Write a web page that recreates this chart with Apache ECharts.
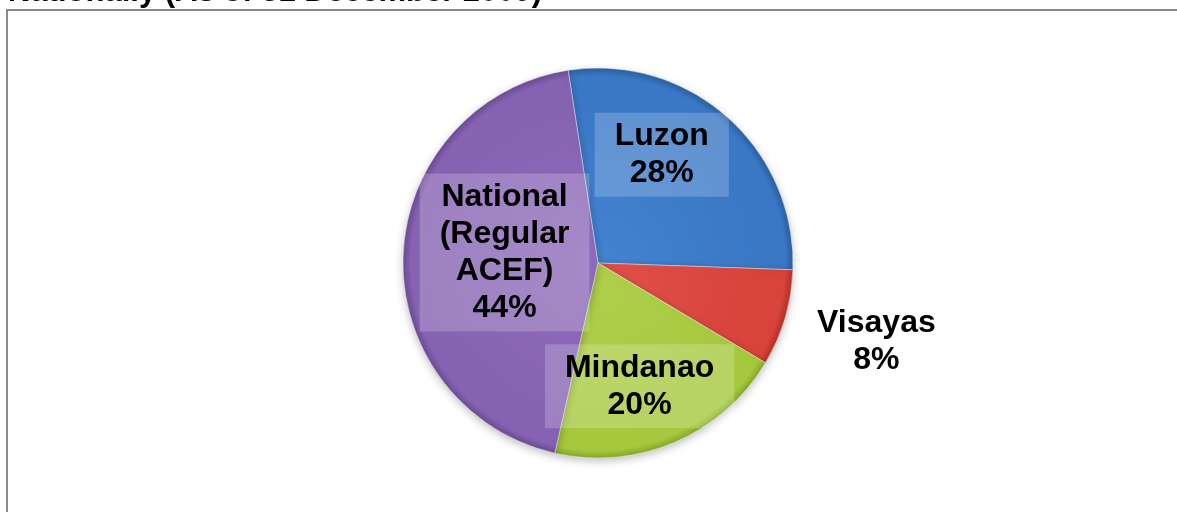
<!DOCTYPE html>
<html>
<head>
<meta charset="utf-8">
<script src="https://cdn.jsdelivr.net/npm/echarts@6/dist/echarts.min.js"></script>
<style>
    html, body { margin: 0; padding: 0; background: #fff; }
    #main { width: 1177px; height: 512px; }
</style>
</head>
<body>
<div id="main"></div>
<script type="text/javascript">
    // data
    var regions = ['Luzon', 'Visayas', 'Mindanao', 'National\n(Regular\nACEF)'];
    var shares = [28, 8, 20, 44];
    var baseColors = ['#3a77c5', '#d8433b', '#a6c83d', '#8662b2'];
    var lightColors = ['#4283d0', '#e0504a', '#b0d04c', '#8f6cba'];
    var darkColors = ['#2c5f9f', '#b33029', '#86a82a', '#6b4b94'];

    // label nudges from default inside position
    var labelOffsets = [[-3, -33], [182, 50], [2, 31], [7, -7]];
    var labelBoxes = [true, false, true, true];

    var cx = 598, cy = 263, rad = 195;

    var myChart = echarts.init(document.getElementById('main'));

    var pieData = regions.map(function (name, i) {
        var boxed = labelBoxes[i];
        return {
            name: name,
            value: shares[i],
            itemStyle: {
                color: {
                    type: 'radial', x: cx, y: cy, r: rad, global: true,
                    colorStops: [
                        { offset: 0, color: lightColors[i] },
                        { offset: 0.88, color: baseColors[i] },
                        { offset: 0.96, color: baseColors[i] },
                        { offset: 1, color: darkColors[i] }
                    ]
                }
            },
            label: {
                offset: labelOffsets[i],
                backgroundColor: boxed ? 'rgba(255,255,255,0.2)' : 'transparent',
                padding: boxed ? [5, 20, 5, 20] : 0
            }
        };
    });

    var option = {
        animation: false,
        graphic: [
            {
                type: 'rect',
                shape: { x: 7, y: 10, width: 1200, height: 600 },
                style: { fill: 'none', stroke: '#8a8a8a', lineWidth: 2 }
            },
            {
                type: 'text',
                left: 8,
                top: -23,
                style: {
                    text: 'Nationally (As of 31 December 2009)',
                    font: 'bold 31px "Liberation Sans", Arial, sans-serif',
                    fill: '#000'
                }
            }
        ],
        series: [{
            type: 'pie',
            center: [cx, cy],
            radius: [0, rad],
            startAngle: 98.8,
            clockwise: true,
            avoidLabelOverlap: false,
            itemStyle: {
                borderColor: 'rgba(255,255,255,0.4)',
                borderWidth: 1,
                shadowColor: 'rgba(0,0,0,0.25)',
                shadowBlur: 8,
                shadowOffsetY: 3
            },
            label: {
                show: true,
                position: 'inside',
                formatter: function (p) {
                    return p.name + '\n' + p.value + '%';
                },
                color: '#000',
                fontFamily: '"Liberation Sans", Arial, sans-serif',
                fontWeight: 'bold',
                fontSize: 32,
                lineHeight: 37,
                align: 'center'
            },
            labelLine: { show: false },
            emphasis: { disabled: true },
            data: pieData
        }]
    };
    myChart.setOption(option);
</script>
</body>
</html>
